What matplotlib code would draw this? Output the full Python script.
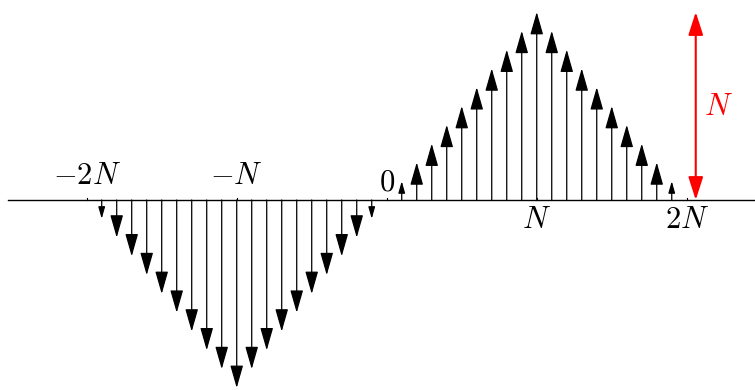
import matplotlib.pyplot as plt

plt.rcParams['mathtext.fontset'] = 'cm'

# signal: triangle pulse of width 2N, negative copy shifted left by 2N
N = 10
pos_k = [1, 2, 3, 4, 5, 6, 7, 8, 9, 10, 11, 12, 13, 14, 15, 16, 17, 18, 19]
pos_h = [1, 2, 3, 4, 5, 6, 7, 8, 9, 10, 9, 8, 7, 6, 5, 4, 3, 2, 1]
neg_k = [-19, -18, -17, -16, -15, -14, -13, -12, -11, -10,
         -9, -8, -7, -6, -5, -4, -3, -2, -1]
neg_h = [-1, -2, -3, -4, -5, -6, -7, -8, -9, -10,
         -9, -8, -7, -6, -5, -4, -3, -2, -1]

tick_k = [-2 * N, -N, 0, N, 2 * N]
above_labels = ['$-2N$', '$-N$', '$0$']
above_k = [-2 * N, -N, 0]
below_labels = ['$N$', '$2N$']
below_k = [N, 2 * N]

fig = plt.figure(figsize=(7.55, 3.9), dpi=100)
ax = fig.add_axes([0, 0, 1, 1])
ax.set_xlim(-25.78, 24.55)
ax.set_ylim(-10.11, 10.64)
ax.axis('off')

# horizontal axis
ax.plot([-25.25, 24.55], [0, 0], color='black', lw=1.0)
for k in tick_k:
    ax.plot([k, k], [0, 0.12], color='black', lw=0.8)


def stem(k, h):
    s = 1.0 if abs(h) > 1 else 0.5
    ax.annotate('', xy=(k, h), xytext=(k, 0),
                arrowprops=dict(arrowstyle=f'-|>,head_length={14 * s},head_width={4.0 * s}',
                                mutation_scale=1, lw=0.9, color='black',
                                shrinkA=0, shrinkB=0))


for k, h in zip(pos_k, pos_h):
    stem(k, h)
for k, h in zip(neg_k, neg_h):
    stem(k, h)

# labels
fs = 22
ax.text(above_k[0], 1.3, above_labels[0], fontsize=fs, ha='center', va='center')
ax.text(above_k[1], 1.3, above_labels[1], fontsize=fs, ha='center', va='center')
ax.text(above_k[2], 0.96, above_labels[2], fontsize=fs, ha='center', va='center')
for lab, k in zip(below_labels, below_k):
    ax.text(k, -1.06, lab, fontsize=fs, ha='center', va='center')

# red height marker
ax.annotate('', xy=(2 * N + 0.6, N), xytext=(2 * N + 0.6, 0),
            arrowprops=dict(arrowstyle='<|-|>,head_length=14,head_width=4.5',
                            mutation_scale=1, lw=1.5, color='red',
                            shrinkA=0, shrinkB=0))
ax.text(2 * N + 2.1, N / 2, '$N$', color='red', fontsize=fs, ha='center', va='center')

fig.savefig('out.png', dpi=100)
